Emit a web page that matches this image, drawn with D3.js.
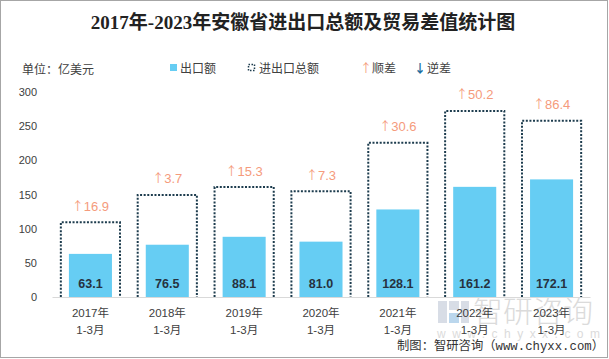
<!DOCTYPE html>
<html><head><meta charset="utf-8">
<script src="https://cdn.jsdelivr.net/npm/d3@7"></script>
<style>html,body{margin:0;padding:0;background:#fff;}svg{display:block;}</style>
</head><body>
<svg id="chart" width="609" height="359"></svg>
<script>
const categories = ["2017年\n1-3月","2018年\n1-3月","2019年\n1-3月","2020年\n1-3月","2021年\n1-3月","2022年\n1-3月","2023年\n1-3月"];
const exportValues = [63.1, 76.5, 88.1, 81.0, 128.1, 161.2, 172.1];
const totalValues = [109.3, 149.3, 160.9, 154.7, 225.6, 272.2, 257.8];
const balanceValues = [16.9, 3.7, 15.3, 7.3, 30.6, 50.2, 86.4];
const yTicks = [0, 50, 100, 150, 200, 250, 300];

const svg = d3.select("#chart");
const W = 609, H = 359;
const CJK = "'Liberation Sans','Noto Sans CJK SC',sans-serif";
const ARROW = "'Noto Sans CJK SC',sans-serif";

svg.append("rect").attr("x",0.5).attr("y",0.5).attr("width",W-2).attr("height",H-2)
  .attr("fill","#fff").attr("stroke","#a6a6a6");

// title
svg.append("text").attr("x",303).attr("y",29).attr("text-anchor","middle")
  .attr("font-family","'Liberation Serif','Noto Sans CJK SC',serif").attr("font-weight","bold")
  .attr("font-size",19).attr("fill","#222")
  .text("2017年-2023年安徽省进出口总额及贸易差值统计图");

// unit
svg.append("text").attr("x",22).attr("y",74).attr("font-family",CJK).attr("font-size",12)
  .attr("fill","#404040").text("单位：亿美元");

// legend
const lg = svg.append("g").attr("font-family",CJK).attr("font-size",12).attr("fill","#404040");
lg.append("rect").attr("x",170).attr("y",64).attr("width",7).attr("height",7).attr("fill","#66CDF3");
lg.append("text").attr("x",180).attr("y",73).text("出口额");
lg.append("rect").attr("x",248.5).attr("y",64.5).attr("width",6).attr("height",6).attr("fill","none")
  .attr("stroke","#1d3c4e").attr("stroke-width",1.5).attr("stroke-dasharray","1.5,1.5");
lg.append("text").attr("x",259).attr("y",73).text("进出口总额");
lg.append("text").attr("x",360).attr("y",73).attr("font-family",ARROW).attr("fill","#F59B7C").text("↑");
lg.append("text").attr("x",372).attr("y",73).text("顺差");
lg.append("text").attr("x",414).attr("y",73).attr("font-family",ARROW).attr("font-weight","bold").attr("fill","#1f6fa0").text("↓");
lg.append("text").attr("x",427).attr("y",73).text("逆差");

// scales
const x = d3.scaleBand().domain(categories).range([52, 590]).paddingInner(0).paddingOuter(0);
const y = d3.scaleLinear().domain([0, 300]).range([297, 92]);
const step = x.step();
const boxW = step * 0.77, barW = step * 0.56;

// watermark
const wm = svg.append("g").attr("opacity",0.45);
wm.append("rect").attr("x",438).attr("y",301).attr("width",9).attr("height",22).attr("fill","#a9b6c8");
wm.append("rect").attr("x",449).attr("y",301).attr("width",10).attr("height",9).attr("fill","#a9b6c8");
wm.append("rect").attr("x",449).attr("y",313).attr("width",10).attr("height",10).attr("fill","#6aa7d8");
wm.append("rect").attr("x",461).attr("y",301).attr("width",8).attr("height",22).attr("fill","#a9b6c8");
wm.append("text").attr("x",473).attr("y",322).attr("font-family",CJK).attr("font-size",30)
  .attr("font-weight",300).attr("fill","#b0b0b0").text("智研咨询");
wm.append("text").attr("x",437).attr("y",338).attr("font-family",CJK).attr("font-size",12)
  .attr("fill","#b0b0b0").attr("textLength",163).attr("lengthAdjust","spacing").text("www.chyxx.com");

// axis
const yAxis = d3.axisLeft(y).tickValues(yTicks).tickSize(0).tickPadding(0);
const ya = svg.append("g").attr("transform","translate(37,0)").call(yAxis);
ya.select(".domain").remove();
ya.selectAll("text").attr("font-family","'Liberation Sans',sans-serif").attr("font-size",11).attr("fill","#404040");

const xAxis = d3.axisBottom(x).tickSize(0).tickFormat("");
const xa = svg.append("g").attr("transform","translate(0,297)").call(xAxis);
xa.select(".domain").attr("stroke","#d9d9d9").attr("stroke-width",1);

// export bars
svg.append("g").selectAll("rect").data(categories).join("rect")
  .attr("x", d => x(d) + (step - barW)/2)
  .attr("y", (d,i) => y(exportValues[i]))
  .attr("width", barW)
  .attr("height", (d,i) => y(0) - y(exportValues[i]))
  .attr("fill","#66CDF3");

// total boxes (dotted, open bottom)
svg.append("g").selectAll("path").data(categories).join("path")
  .attr("d", (d,i) => {
    const x0 = x(d) + (step - boxW)/2, x1 = x0 + boxW, yt = y(totalValues[i]), yb = y(0);
    return `M${x0},${yb}V${yt}H${x1}V${yb}`;
  })
  .attr("fill","none").attr("stroke","#1d3c4e").attr("stroke-width",2).attr("stroke-dasharray","2,1.6");

// export labels
svg.append("g").selectAll("text").data(categories).join("text")
  .attr("x", d => x(d) + step/2).attr("y", 287.5).attr("text-anchor","middle")
  .attr("font-family","'Liberation Sans',sans-serif").attr("font-weight","bold").attr("font-size",12.5)
  .attr("fill","#26323f").text((d,i) => exportValues[i].toFixed(1));

// balance labels
const bl = svg.append("g").selectAll("text").data(categories).join("text")
  .attr("x", d => x(d) + step/2).attr("y", (d,i) => y(totalValues[i]) - 11.5).attr("text-anchor","middle")
  .attr("font-family","'Liberation Sans',sans-serif").attr("font-size",13)
  .attr("fill","#F59B7C");
bl.append("tspan").attr("font-family",ARROW).attr("font-size",12).text((d,i) => balanceValues[i] >= 0 ? "↑" : "↓");
bl.append("tspan").text((d,i) => Math.abs(balanceValues[i]).toFixed(1));

// x labels
const xl = svg.append("g").selectAll("text").data(categories).join("text")
  .attr("text-anchor","middle").attr("font-family",CJK).attr("font-size",11.5).attr("fill","#404040");
xl.each(function(d){
  const parts = d.split("\n");
  const t = d3.select(this);
  t.append("tspan").attr("x", x(d)+step/2).attr("y",317).text(parts[0]);
  t.append("tspan").attr("x", x(d)+step/2).attr("y",334).text(parts[1]);
});

// footer
svg.append("text").attr("x",397).attr("y",350).attr("font-family","'Liberation Mono','Noto Sans CJK SC',monospace")
  .attr("font-size",12.5).attr("fill","#333").attr("textLength",207).attr("lengthAdjust","spacingAndGlyphs")
  .text("制图：智研咨询（www.chyxx.com）");
</script>
</body></html>
